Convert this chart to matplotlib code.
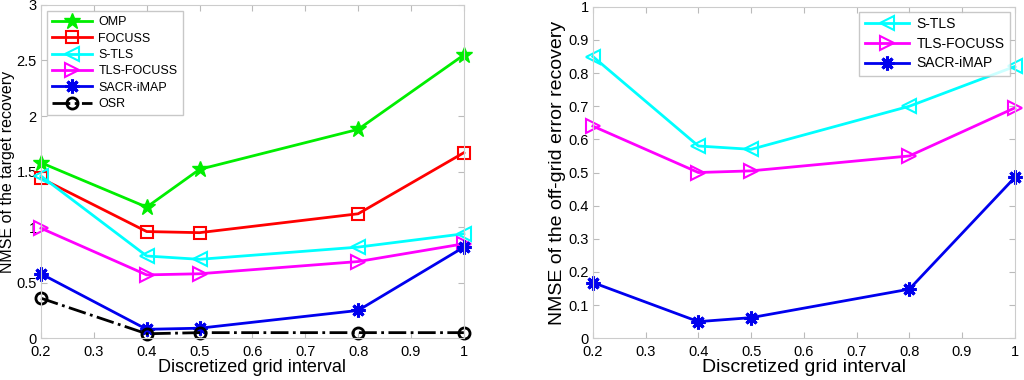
import matplotlib
matplotlib.use('Agg')
import matplotlib.pyplot as plt

plt.rcParams['font.family'] = ['Liberation Sans', 'DejaVu Sans']

# ----------------------------- DATA -----------------------------
grid = [0.2, 0.4, 0.5, 0.8, 1.0]

# left: NMSE of the target recovery
omp = [1.58, 1.18, 1.52, 1.88, 2.55]
focuss = [1.44, 0.96, 0.95, 1.12, 1.67]
stls = [1.46, 0.74, 0.71, 0.82, 0.94]
tlsfocuss = [0.99, 0.57, 0.58, 0.69, 0.85]
sacr = [0.58, 0.08, 0.09, 0.25, 0.82]
osr = [0.36, 0.04, 0.05, 0.05, 0.05]

# right: NMSE of the off-grid error recovery
stls_off = [0.85, 0.58, 0.57, 0.70, 0.82]
tlsfocuss_off = [0.64, 0.50, 0.505, 0.55, 0.695]
sacr_off = [0.168, 0.05, 0.062, 0.148, 0.485]

xticks = [0.2, 0.3, 0.4, 0.5, 0.6, 0.7, 0.8, 0.9, 1]
xticklabels = ['0.2', '0.3', '0.4', '0.5', '0.6', '0.7', '0.8', '0.9', '1']

# ----------------------------- STYLE -----------------------------
lw = 2
sty = {
    'OMP': dict(color='#00ee00', marker='*', ms=12, mfc='#00ee00'),
    'FOCUSS': dict(color='#ff0000', marker='s', ms=8, mfc='none', mew=1.5),
    'S-TLS': dict(color='#00ffff', marker='<', ms=10, mfc='none', mew=1.5),
    'TLS-FOCUSS': dict(color='#ff00ff', marker='>', ms=10, mfc='none', mew=1.5),
    'SACR-iMAP': dict(color='#0000ee', marker=(8, 2, 0), ms=10, mew=2.2),
    'OSR': dict(color='black', marker='o', ms=8, mfc='none', mew=2, ls='-.'),
}


def style_axes(ax, ymax, yticks, yticklabels):
    ax.set_xlim(0.2, 1)
    ax.set_ylim(0, ymax)
    ax.set_xticks(xticks)
    ax.set_xticklabels(xticklabels)
    ax.set_yticks(yticks)
    ax.set_yticklabels(yticklabels)
    ax.tick_params(direction='in', top=True, right=True, labelsize=10.5,
                   color='#bbbbbb', length=4, pad=3)
    ax.tick_params(axis='x', pad=5)
    for s in ax.spines.values():
        s.set_color('#cccccc')


fig = plt.figure(figsize=(10.24, 3.8), dpi=100)

# ----------------------------- LEFT -----------------------------
ax1 = fig.add_axes([0.040, 0.110, 0.413, 0.877])
for name, ys in [('OMP', omp), ('FOCUSS', focuss), ('S-TLS', stls),
                 ('TLS-FOCUSS', tlsfocuss), ('SACR-iMAP', sacr), ('OSR', osr)]:
    ax1.plot(grid, ys, lw=lw, label=name, clip_on=False, **sty[name])
style_axes(ax1, 3, [0, 0.5, 1, 1.5, 2, 2.5, 3],
           ['0', '0.5', '1', '1.5', '2', '2.5', '3'])
ax1.set_xlabel('Discretized grid interval', fontsize=13, labelpad=0)
ax1.set_ylabel('NMSE of the target recovery', fontsize=11.5, labelpad=1)
leg = ax1.legend(loc='upper left', fontsize=9, frameon=True, fancybox=False,
                 edgecolor='#bbbbbb', borderaxespad=0.5, handlelength=3.2,
                 labelspacing=0.35, borderpad=0.4, handletextpad=0.5)
leg.get_frame().set_linewidth(1)

# ----------------------------- RIGHT -----------------------------
ax2 = fig.add_axes([0.579, 0.110, 0.412, 0.872])
for name, ys in [('S-TLS', stls_off), ('TLS-FOCUSS', tlsfocuss_off),
                 ('SACR-iMAP', sacr_off)]:
    ax2.plot(grid, ys, lw=lw, label=name, clip_on=False, **sty[name])
style_axes(ax2, 1, [0, 0.1, 0.2, 0.3, 0.4, 0.5, 0.6, 0.7, 0.8, 0.9, 1],
           ['0', '0.1', '0.2', '0.3', '0.4', '0.5', '0.6', '0.7', '0.8', '0.9', '1'])
ax2.set_xlabel('Discretized grid interval', fontsize=14, labelpad=0)
ax2.set_ylabel('NMSE of the off-grid error recovery', fontsize=14, labelpad=2)
leg2 = ax2.legend(loc='upper right', fontsize=10, frameon=True, fancybox=False,
                  edgecolor='#bbbbbb', borderaxespad=0.35, handlelength=3.2,
                  labelspacing=0.4, borderpad=0.4, handletextpad=0.5)
leg2.get_frame().set_linewidth(1)

fig.savefig('out.png', dpi=100)
